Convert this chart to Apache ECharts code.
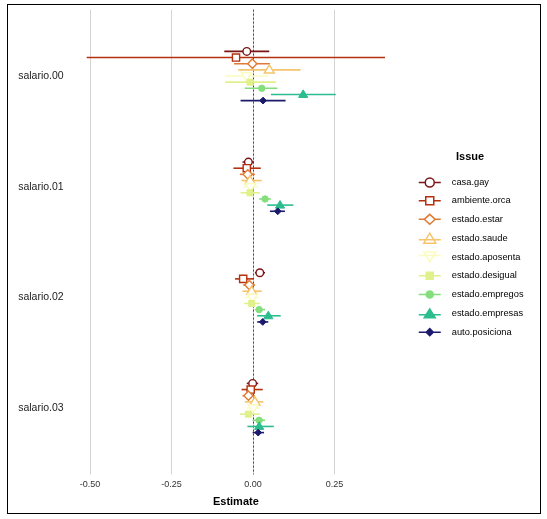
<!DOCTYPE html>
<html>
<head>
<meta charset="utf-8">
<script src="https://cdn.jsdelivr.net/npm/echarts@6/dist/echarts.min.js"></script>
<style>
html,body{margin:0;padding:0;background:#fff;}
#frame{position:absolute;left:7px;top:4px;width:532px;height:508px;border:1px solid #000;}
#chart{position:absolute;left:0;top:0;width:547px;height:519px;}
</style>
</head>
<body>
<div id="frame"></div>
<div id="chart"></div>
<script>
// ---- data ----
const groups = ['salario.00', 'salario.01', 'salario.02', 'salario.03'];
const xTicks = [-0.5, -0.25, 0, 0.25];
const seriesNames = ['casa.gay', 'ambiente.orca', 'estado.estar', 'estado.saude', 'estado.aposenta',
  'estado.desigual', 'estado.empregos', 'estado.empresas', 'auto.posiciona'];

const casaGayEst = [-0.019, -0.014, 0.021, -0.001];
const casaGayLo = [-0.088, -0.032, 0.006, -0.019];
const casaGayHi = [0.050, 0.003, 0.037, 0.016];

const ambienteOrcaEst = [-0.052, -0.019, -0.030, -0.007];
const ambienteOrcaLo = [-0.510, -0.060, -0.055, -0.035];
const ambienteOrcaHi = [0.405, 0.024, 0.001, 0.030];

const estadoEstarEst = [-0.002, -0.016, -0.011, -0.014];
const estadoEstarLo = [-0.058, -0.040, -0.030, -0.032];
const estadoEstarHi = [0.052, 0.006, 0.006, 0.006];

const estadoSaudeEst = [0.050, -0.009, -0.004, 0.006];
const estadoSaudeLo = [-0.045, -0.035, -0.032, -0.025];
const estadoSaudeHi = [0.146, 0.027, 0.027, 0.032];

const estadoAposentaEst = [-0.020, -0.008, -0.002, 0.000];
const estadoAposentaLo = [-0.086, -0.030, -0.025, -0.019];
const estadoAposentaHi = [0.047, 0.015, 0.015, 0.021];

const estadoDesigualEst = [-0.009, -0.009, -0.004, -0.014];
const estadoDesigualLo = [-0.085, -0.038, -0.027, -0.040];
const estadoDesigualHi = [0.071, 0.021, 0.021, 0.021];

const estadoEmpregosEst = [0.027, 0.037, 0.019, 0.019];
const estadoEmpregosLo = [-0.025, 0.019, 0.006, -0.001];
const estadoEmpregosHi = [0.075, 0.055, 0.037, 0.037];

const estadoEmpresasEst = [0.154, 0.083, 0.047, 0.019];
const estadoEmpresasLo = [0.055, 0.044, 0.013, -0.017];
const estadoEmpresasHi = [0.254, 0.124, 0.085, 0.064];

const autoPosicionaEst = [0.031, 0.076, 0.030, 0.016];
const autoPosicionaLo = [-0.038, 0.052, 0.013, -0.001];
const autoPosicionaHi = [0.100, 0.098, 0.047, 0.034];

const allEst = [casaGayEst, ambienteOrcaEst, estadoEstarEst, estadoSaudeEst, estadoAposentaEst,
  estadoDesigualEst, estadoEmpregosEst, estadoEmpresasEst, autoPosicionaEst];
const allLo = [casaGayLo, ambienteOrcaLo, estadoEstarLo, estadoSaudeLo, estadoAposentaLo,
  estadoDesigualLo, estadoEmpregosLo, estadoEmpresasLo, autoPosicionaLo];
const allHi = [casaGayHi, ambienteOrcaHi, estadoEstarHi, estadoSaudeHi, estadoAposentaHi,
  estadoDesigualHi, estadoEmpregosHi, estadoEmpresasHi, autoPosicionaHi];

// ---- styles ----
const colors = ['#7b1414', '#b5300c', '#e07b35', '#f5c46c', '#fbfbbf', '#e0f08a', '#84de7c', '#2cbd8e', '#1b1a6c'];
const shapes = ['circleOpen', 'squareOpen', 'diamondOpen', 'triUpOpen', 'triDownOpen',
  'square', 'circle', 'triUp', 'diamondSmall'];
const DODGE = 0.5 / 9;

function symbolEl(shape, p, c) {
  const x = p[0], y = p[1];
  const open = { fill: '#fff', stroke: c, lineWidth: 1.4 };
  const solid = { fill: c, stroke: c, lineWidth: 1 };
  switch (shape) {
    case 'circleOpen': return { type: 'circle', shape: { cx: x, cy: y, r: 3.8 }, style: open };
    case 'squareOpen': return { type: 'rect', shape: { x: x - 3.6, y: y - 3.6, width: 7.2, height: 7.2 }, style: open };
    case 'diamondOpen': return { type: 'polygon', shape: { points: [[x, y - 4.6], [x + 4.6, y], [x, y + 4.6], [x - 4.6, y]] }, style: open };
    case 'triUpOpen': return { type: 'polygon', shape: { points: [[x, y - 5], [x + 5, y + 3.2], [x - 5, y + 3.2]] }, style: open };
    case 'triDownOpen': return { type: 'polygon', shape: { points: [[x, y + 5], [x + 5, y - 3.2], [x - 5, y - 3.2]] }, style: open };
    case 'square': return { type: 'rect', shape: { x: x - 3, y: y - 3, width: 6, height: 6 }, style: solid };
    case 'circle': return { type: 'circle', shape: { cx: x, cy: y, r: 3.2 }, style: solid };
    case 'triUp': return { type: 'polygon', shape: { points: [[x, y - 4.6], [x + 4.6, y + 3], [x - 4.6, y + 3]] }, style: solid };
    default: return { type: 'polygon', shape: { points: [[x, y - 3.4], [x + 3.4, y], [x, y + 3.4], [x - 3.4, y]] }, style: solid };
  }
}

const legendIcons = [
  'path://M0,5L6.5,5M15.5,5L22,5M6.5,5A4.5,4.5,0,1,1,15.5,5A4.5,4.5,0,1,1,6.5,5Z',
  'path://M0,5L7,5M15,5L22,5M7,1L15,1L15,9L7,9Z',
  'path://M0,5L5.5,5M16.5,5L22,5M11,0L16.5,5L11,10L5.5,5Z',
  'path://M0,6.5L22,6.5M11,0L17,10L5,10Z',
  'path://M0,3.5L22,3.5M11,10L17,0L5,0Z',
  'path://M0,5L22,5M7.5,1.5L14.5,1.5L14.5,8.5L7.5,8.5ZM11,0L11,0M11,10L11,10',
  'path://M0,5L22,5M7.5,5A3.5,3.5,0,1,1,14.5,5A3.5,3.5,0,1,1,7.5,5ZM11,0L11,0M11,10L11,10',
  'path://M0,6.5L22,6.5M11,0.5L16.5,9.5L5.5,9.5ZM11,0L11,0M11,10L11,10',
  'path://M0,5L22,5M11,1.5L14.5,5L11,8.5L7.5,5ZM11,0L11,0M11,10L11,10'
];
const openFlags = [true, true, true, true, true, false, false, false, false];

const series = seriesNames.map(function (name, j) {
  const data = groups.map(function (g, i) { return [i, allEst[j][i], allLo[j][i], allHi[j][i]]; });
  return {
    name: name,
    type: 'custom',
    itemStyle: { color: colors[j] },
    encode: { x: [1, 2, 3], y: 0 },
    data: data,
    z: 10 + j,
    renderItem: function (params, api) {
      const yv = api.value(0) + (j - 4) * DODGE;
      const p = api.coord([api.value(1), yv]);
      const pl = api.coord([api.value(2), yv]);
      const ph = api.coord([api.value(3), yv]);
      return {
        type: 'group',
        children: [
          { type: 'line', shape: { x1: pl[0], y1: pl[1], x2: ph[0], y2: ph[1] }, style: { stroke: colors[j], lineWidth: 1.6 } },
          symbolEl(shapes[j], p, colors[j])
        ]
      };
    }
  };
});

// zero reference line
series.push({
  type: 'line',
  data: [],
  silent: true,
  markLine: {
    symbol: 'none',
    label: { show: false },
    lineStyle: { color: '#222', type: [2, 2], width: 0.8 },
    data: [{ xAxis: 0 }]
  }
});

const chart = echarts.init(document.getElementById('chart'), null, { renderer: 'canvas' });
chart.setOption({
  animation: false,
  backgroundColor: 'transparent',
  textStyle: { fontFamily: 'Liberation Sans, Arial, sans-serif' },
  title: {
    text: 'Issue',
    left: 451,
    top: 146,
    textStyle: { fontSize: 11, fontWeight: 'bold', color: '#000', fontFamily: 'Liberation Sans, Arial, sans-serif' }
  },
  grid: { left: 71.7, top: 9.6, width: 328.3, height: 464.8, containLabel: false },
  xAxis: {
    type: 'value',
    min: -0.556,
    max: 0.451,
    name: 'Estimate',
    nameLocation: 'middle',
    nameGap: 22,
    nameTextStyle: { fontSize: 11, fontWeight: 'bold', color: '#000', fontFamily: 'Liberation Sans, Arial, sans-serif' },
    axisLine: { show: false },
    axisTick: { show: false, customValues: xTicks },
    axisLabel: {
      customValues: xTicks,
      margin: 6,
      fontSize: 9,
      color: '#333',
      formatter: function (v) { return v.toFixed(2); }
    },
    splitLine: { show: true, lineStyle: { color: '#d4d4d4', width: 1 } }
  },
  yAxis: {
    type: 'value',
    min: -0.6,
    max: 3.6,
    inverse: true,
    axisLine: { show: false },
    axisTick: { show: false, customValues: [0, 1, 2, 3] },
    splitLine: { show: false },
    axisLabel: {
      customValues: [0, 1, 2, 3],
      margin: 8,
      fontSize: 10.5,
      color: '#222',
      formatter: function (v) { return groups[Math.round(v)]; }
    }
  },
  legend: {
    orient: 'vertical',
    left: 413,
    top: 172,
    itemWidth: 22,
    itemHeight: 10,
    itemGap: 7.3,
    selectedMode: false,
    textStyle: { fontSize: 9.3, lineHeight: 11, color: '#000', padding: [0, 0, 0, 6], fontFamily: 'Liberation Sans, Arial, sans-serif' },
    data: seriesNames.map(function (n, j) {
      return {
        name: n,
        icon: legendIcons[j],
        itemStyle: { color: openFlags[j] ? '#fff' : colors[j], borderColor: colors[j], borderWidth: 1.5 }
      };
    })
  },
  series: series
});
</script>
</body>
</html>
